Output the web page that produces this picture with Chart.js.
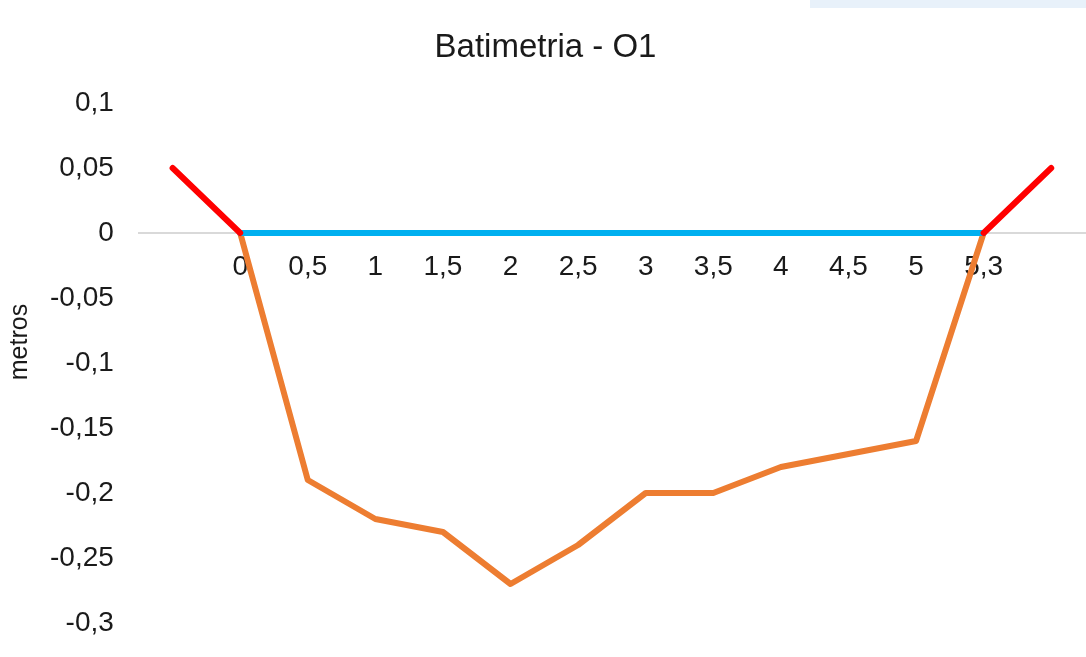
<!DOCTYPE html>
<html>
<head>
<meta charset="utf-8">
<script src="https://cdn.jsdelivr.net/npm/chart.js@4"></script>
<style>
    html, body { margin: 0; padding: 0; background: #fff; }
    #wrap { position: relative; width: 1086px; height: 657px; }
    #topBar { position: absolute; top: 0; left: 810px; width: 276px; height: 8px; background: #e8f1fa; }
</style>
</head>
<body>
<div id="wrap">
    <div id="topBar"></div>
    <canvas id="myChart"></canvas>
</div>
<script>
// distancia (m) - primeira e última categoria são as margens
const labels = ['', '0', '0,5', '1', '1,5', '2', '2,5', '3', '3,5', '4', '4,5', '5', '5,3', ''];
const margem = [0.05, 0, null, null, null, null, null, null, null, null, null, null, 0, 0.05];
const nivelAgua = [null, 0, 0, 0, 0, 0, 0, 0, 0, 0, 0, 0, 0, null];
const fundo = [null, 0, -0.19, -0.22, -0.23, -0.27, -0.24, -0.2, -0.2, -0.18, -0.17, -0.16, 0, null];
const yTitle = 'metros';

const FONT = "'Liberation Sans', Arial, sans-serif";
const TXT = '#1a1a1a';

function fmtComma(v) {
    var n = Math.round(v * 100) / 100;
    return n.toString().replace('.', ',');
}

// titulo do eixo y um pouco acima do centro (como no Excel)
const yTitlePlugin = {
    id: 'yTitlePlugin',
    afterDraw: function(chart) {
        var c = chart.ctx;
        var area = chart.chartArea;
        c.save();
        c.translate(20, (area.top + area.bottom) / 2 - 21);
        c.rotate(-Math.PI / 2);
        c.fillStyle = TXT;
        c.font = '25px ' + FONT;
        c.textAlign = 'center';
        c.textBaseline = 'middle';
        c.fillText(yTitle, 0, 0);
        c.restore();
    }
};

var ctx = document.getElementById('myChart');
var myChart = new Chart(ctx, {
    type: 'line',
    data: {
        labels: labels,
        datasets: [
            { data: margem, borderColor: '#ff0000', order: 0 },
            { data: nivelAgua, borderColor: '#00b0f0', order: 1 },
            { data: fundo, borderColor: '#ed7d31', order: 2 }
        ]
    },
    plugins: [yTitlePlugin],
    options: {
        responsive: true,
        maintainAspectRatio: false,
        animation: false,
        spanGaps: false,
        elements: {
            point: { radius: 0, hoverRadius: 0 },
            line: { borderWidth: 6, tension: 0, borderCapStyle: 'round', borderJoinStyle: 'round' }
        },
        layout: { padding: { left: 6, right: 1, top: 0, bottom: 34 } },
        plugins: {
            legend: { display: false },
            tooltip: { enabled: false },
            title: {
                display: true,
                text: 'Batimetria - O1',
                color: TXT,
                font: { family: FONT, size: 33, weight: 'normal' },
                padding: { top: 28, bottom: 35.4 }
            }
        },
        scales: {
            x: {
                position: { y: 0 },
                offset: true,
                grid: { display: false, drawTicks: false },
                border: { display: true, color: '#d9d9d9', width: 2 },
                ticks: {
                    autoSkip: false,
                    maxRotation: 0,
                    padding: 17,
                    color: TXT,
                    font: { family: FONT, size: 28 }
                }
            },
            y: {
                min: -0.3,
                max: 0.1,
                grid: { display: false, drawTicks: false },
                border: { display: false },
                ticks: {
                    stepSize: 0.05,
                    padding: 25,
                    color: TXT,
                    font: { family: FONT, size: 28 },
                    callback: function(v) { return fmtComma(v); }
                },
                title: {
                    // espaço reservado; o texto é desenhado pelo plugin
                    display: true,
                    text: yTitle,
                    color: 'rgba(0,0,0,0)',
                    font: { family: FONT, size: 25 },
                    padding: { top: 0, bottom: -11 }
                },
                // sem folga extra em cima/embaixo, o layout usa só o padding
                afterFit: function(scale) {
                    scale.paddingTop = 0;
                    scale.paddingBottom = 0;
                }
            }
        }
    }
});
</script>
</body>
</html>
